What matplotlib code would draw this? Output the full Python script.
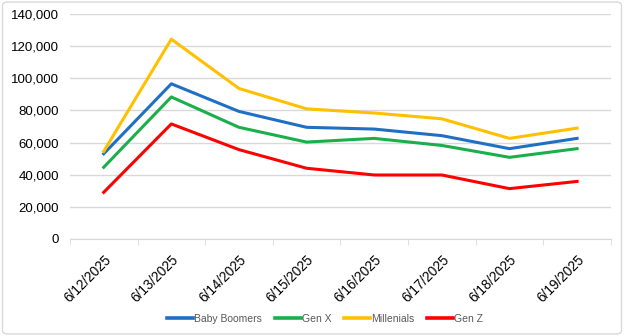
import matplotlib
matplotlib.use("Agg")
import matplotlib.pyplot as plt
from matplotlib.ticker import FuncFormatter, FixedLocator
from matplotlib.patches import FancyBboxPatch

plt.rcParams["font.family"] = ["Liberation Sans", "DejaVu Sans"]

dates = ["6/12/2025", "6/13/2025", "6/14/2025", "6/15/2025",
         "6/16/2025", "6/17/2025", "6/18/2025", "6/19/2025"]
baby_boomers = [53000, 96600, 79400, 69500, 68400, 64300, 56200, 62600]
gen_x = [44600, 88400, 69500, 60300, 62600, 58200, 50800, 56200]
millenials = [54500, 124400, 93700, 81000, 78400, 74800, 62600, 69000]
gen_z = [29000, 71600, 55600, 44000, 39800, 39800, 31300, 35800]

series = [("Baby Boomers", baby_boomers, "#1f6fc5"),
          ("Gen X", gen_x, "#1aaf4b"),
          ("Millenials", millenials, "#ffc000"),
          ("Gen Z", gen_z, "#ff0000")]

fig = plt.figure(figsize=(6.24, 3.36), dpi=100)
ax = fig.add_axes([0.112, 0.289, 0.867, 0.669])

border = FancyBboxPatch((0.004, 0.006), 0.992, 0.988, boxstyle="round,pad=0,rounding_size=0.01",
                        transform=fig.transFigure, facecolor="none", edgecolor="#d9d9d9", lw=1)
fig.patches.append(border)

x = list(range(len(dates)))
for name, vals, col in series:
    ax.plot(x, vals, color=col, lw=2.2, label=name, solid_joinstyle="round")

ax.set_xlim(-0.5, len(dates) - 0.5)
ax.set_ylim(0, 140000)
ax.set_yticks(range(0, 140001, 20000))
ax.yaxis.set_major_formatter(FuncFormatter(lambda v, p: f"{int(v):,}"))
ax.grid(axis="y", color="#d9d9d9", lw=1)
ax.set_axisbelow(True)

ax.set_xticks(x)
ax.set_xticklabels(dates, rotation=45, ha="right", rotation_mode="anchor")
ax.xaxis.set_minor_locator(FixedLocator([i - 0.5 for i in range(len(dates) + 1)]))
ax.tick_params(axis="x", which="major", length=0, pad=10, labelsize=9.8, colors="#000000")
ax.tick_params(axis="x", which="minor", length=4, color="#d9d9d9")
ax.tick_params(axis="y", length=0, labelsize=9.5, pad=8)

for s in ["top", "right", "left"]:
    ax.spines[s].set_visible(False)
ax.spines["bottom"].set_color("#d9d9d9")

leg = fig.legend(loc="center", bbox_to_anchor=(0.521, 0.052), ncol=4, frameon=False,
                 fontsize=7.5, labelcolor="#595959", handlelength=2.5, handletextpad=0.1,
                 columnspacing=1.2)
for line in leg.get_lines():
    line.set_linewidth(2.6)

fig.savefig("out.png", dpi=100)
